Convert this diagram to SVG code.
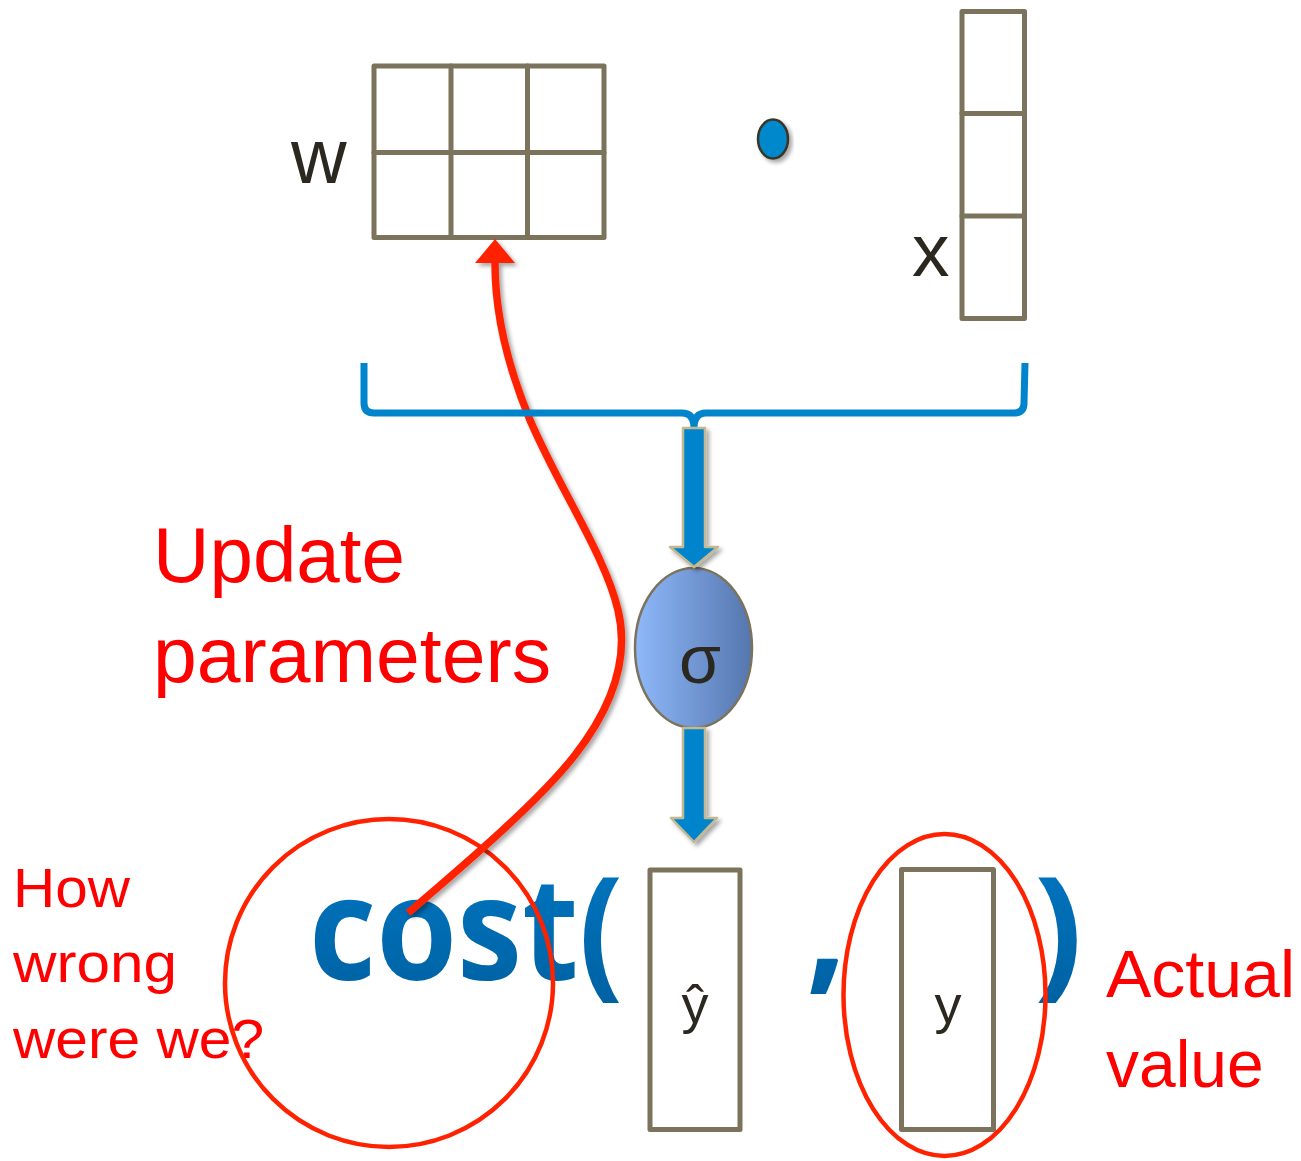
<svg xmlns="http://www.w3.org/2000/svg" width="1301" height="1161" viewBox="0 0 1301 1161">
<style>
.box{fill:none;stroke:#7b735b;stroke-width:5;stroke-linejoin:round;stroke-linecap:round}
.lbl{font-family:"Liberation Sans",Arial,sans-serif;fill:#2b2820}
.red{font-family:"Liberation Sans",Arial,sans-serif;fill:#ff0000}
.cost{font-family:"Open Sans","Liberation Sans",sans-serif;font-weight:700;fill:url(#costGrad)}
.redline{fill:none;stroke:#ff2200}
.barrow{fill:#0085cc;stroke:#c2b892;stroke-width:2.5;stroke-linejoin:round}
</style>
<defs>
<linearGradient id="costGrad" x1="0" y1="0" x2="0" y2="1">
<stop offset="0" stop-color="#0079c6"/>
<stop offset="1" stop-color="#005f9f"/>
</linearGradient>
<linearGradient id="sigGrad" x1="0" y1="0" x2="1" y2="0">
<stop offset="0" stop-color="#8fb9fb"/>
<stop offset="1" stop-color="#5576ad"/>
</linearGradient>
<filter id="shadow" x="-20%" y="-20%" width="140%" height="140%">
<feDropShadow dx="3" dy="3" stdDeviation="2" flood-color="#000" flood-opacity="0.35"/>
</filter>
<marker id="redHead" viewBox="0 -20 24 40" refX="0" refY="0" markerWidth="24" markerHeight="40" markerUnits="userSpaceOnUse" orient="auto">
<path d="M0,-20 L24,0 L0,20 Z" fill="#ff2200"/>
</marker>
</defs>

<g id="node-w">
<rect class="box" x="374" y="66" width="230" height="171.5"/>
<line class="box" x1="451" y1="66" x2="451" y2="237.5"/>
<line class="box" x1="527.5" y1="66" x2="527.5" y2="237.5"/>
<line class="box" x1="374" y1="152.5" x2="604" y2="152.5"/>
<text class="lbl" x="291" y="183" font-size="77">w</text>
</g>

<g id="node-dot">
<ellipse cx="773" cy="139" rx="15" ry="19.5" fill="#0088cc" stroke="#3a3526" stroke-width="2.5" filter="url(#shadow)"/>
</g>

<g id="node-x">
<rect class="box" x="962" y="11.5" width="62.5" height="307"/>
<line class="box" x1="962" y1="113.5" x2="1024.5" y2="113.5"/>
<line class="box" x1="962" y1="216" x2="1024.5" y2="216"/>
<text class="lbl" x="912" y="276" font-size="75">x</text>
</g>

<g id="node-cost">
<text class="cost" x="309" y="980" font-size="143" textLength="314" lengthAdjust="spacingAndGlyphs">cost(</text>
<text class="cost" x="806" y="975" font-size="143">,</text>
<text class="cost" x="1034" y="980" font-size="143">)</text>
</g>

<g id="node-yhat">
<rect class="box" x="650" y="870" width="90" height="259.5"/>
<text class="lbl" x="695" y="1023" font-size="54" text-anchor="middle">ŷ</text>
</g>

<g id="node-y">
<rect class="box" x="901.5" y="869.5" width="92" height="260"/>
<text class="lbl" x="948" y="1023" font-size="54" text-anchor="middle">y</text>
</g>

<g id="node-sigma">
<ellipse cx="693.5" cy="648" rx="58.5" ry="80" fill="url(#sigGrad)" stroke="#7b735b" stroke-width="2.5"/>
<text class="lbl" x="700" y="683" font-size="68" text-anchor="middle">σ</text>
</g>

<g id="label-update">
<text class="red" x="153" y="582" font-size="77" textLength="252" lengthAdjust="spacingAndGlyphs">Update</text>
<text class="red" x="153" y="682" font-size="77" textLength="398" lengthAdjust="spacingAndGlyphs">parameters</text>
</g>

<g id="label-how">
<text class="red" x="13" y="907" font-size="56" textLength="117" lengthAdjust="spacingAndGlyphs">How</text>
<text class="red" x="13" y="982" font-size="56" textLength="164" lengthAdjust="spacingAndGlyphs">wrong</text>
<text class="red" x="13" y="1058" font-size="56" textLength="251" lengthAdjust="spacingAndGlyphs">were we?</text>
</g>

<g id="label-actual">
<text class="red" x="1106" y="997" font-size="66" textLength="189" lengthAdjust="spacingAndGlyphs">Actual</text>
<text class="red" x="1106" y="1087" font-size="66">value</text>
</g>

<g id="connectors">
<circle class="redline" cx="389" cy="983" r="164" stroke-width="4.5"/>
<ellipse class="redline" cx="944.5" cy="995" rx="101" ry="161" stroke-width="4.5"/>
<path class="redline" stroke-width="7.5" filter="url(#shadow)" marker-end="url(#redHead)" d="M408,913 C470,860 540,800 575,755 C610,710 630,660 618,610 C605,555 560,490 530,420 C505,360 495,310 495,263"/>
<path d="M364,363 L364,403 Q364,413 374,413 L682,413 Q694,413 694,428 Q694,413 706,413 L1014,413 Q1024,413 1024,403 L1025,363" fill="none" stroke="#0085cc" stroke-width="7"/>
<path class="barrow" filter="url(#shadow)" d="M683,428 L705,428 L705,547 L718,547 L694,567 L670,547 L683,547 Z"/>
<path class="barrow" filter="url(#shadow)" d="M683,728 L705,728 L705,818 L717,818 L694,842 L671,818 L683,818 Z"/>
</g>
</svg>
